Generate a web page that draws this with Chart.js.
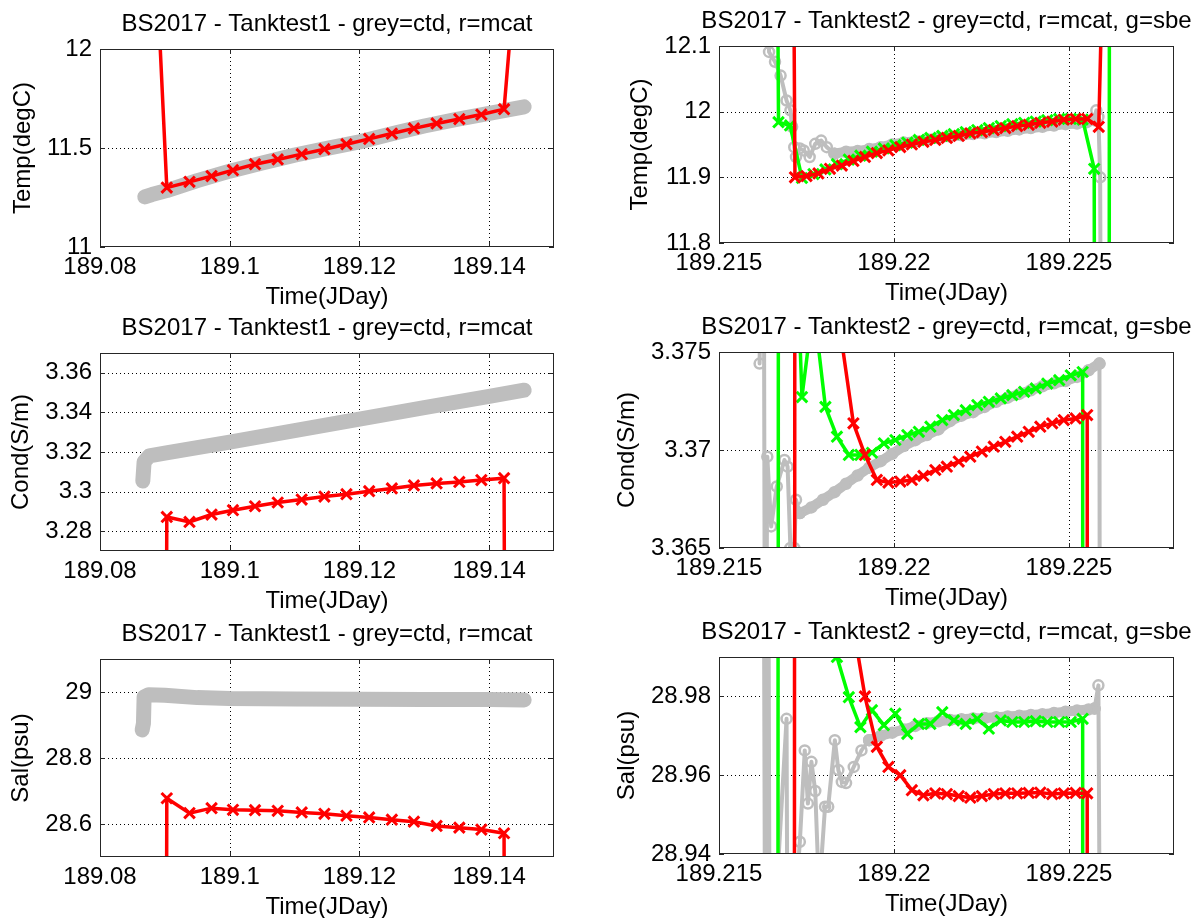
<!DOCTYPE html>
<html>
<head>
<meta charset="utf-8">
<script src="https://cdn.jsdelivr.net/npm/chart.js@4.4.1/dist/chart.umd.min.js"></script>
<style>
  html, body { margin: 0; padding: 0; background: #fff; width: 1198px; height: 918px; overflow: hidden; }
  canvas { position: absolute; }
</style>
</head>
<body>
<canvas id="c_t1"></canvas>
<canvas id="c_t2"></canvas>
<canvas id="c_c1"></canvas>
<canvas id="c_c2"></canvas>
<canvas id="c_s1"></canvas>
<canvas id="c_s2"></canvas>
<script>
/* ── titles & axis labels ─────────────────────────────────────── */
const TITLE_1 = 'BS2017 - Tanktest1 - grey=ctd, r=mcat';
const TITLE_2 = 'BS2017 - Tanktest2 - grey=ctd, r=mcat, g=sbe';
const X_TITLE = 'Time(JDay)';

/* ── tick values / labels ─────────────────────────────────────── */
const xTicks1 = [189.08, 189.1, 189.12, 189.14];
const xTickLabels1 = ['189.08', '189.1', '189.12', '189.14'];
const xTicks2 = [189.215, 189.22, 189.225];
const xTickLabels2 = ['189.215', '189.22', '189.225'];

const tempTicks1 = [11, 11.5, 12];
const tempTickLabels1 = ['11', '11.5', '12'];
const condTicks1 = [3.28, 3.3, 3.32, 3.34, 3.36];
const condTickLabels1 = ['3.28', '3.3', '3.32', '3.34', '3.36'];
const salTicks1 = [28.6, 28.8, 29];
const salTickLabels1 = ['28.6', '28.8', '29'];

const tempTicks2 = [11.8, 11.9, 12, 12.1];
const tempTickLabels2 = ['11.8', '11.9', '12', '12.1'];
const condTicks2 = [3.365, 3.37, 3.375];
const condTickLabels2 = ['3.365', '3.37', '3.375'];
const salTicks2 = [28.94, 28.96, 28.98];
const salTickLabels2 = ['28.94', '28.96', '28.98'];

/* ── Tanktest1: mcat (red) ────────────────────────────────────── */
const mcatTime1 = [189.0868, 189.0903, 189.0938, 189.0972, 189.1005, 189.1039, 189.1074, 189.1111,
  189.1146, 189.1180, 189.1215, 189.1250, 189.1284, 189.1319, 189.1354, 189.1388, 189.1423, 189.1458];
const mcatTemp1 = [13.73, 11.300, 11.329, 11.358, 11.388, 11.418, 11.442, 11.469, 11.494,
  11.519, 11.546, 11.573, 11.599, 11.624, 11.646, 11.669, 11.696, 13.07];
const mcatCond1 = [0, 3.2872, 3.2847, 3.2884, 3.2906, 3.2926, 3.2945, 3.2960, 3.2975,
  3.2987, 3.3002, 3.3016, 3.3031, 3.3041, 3.3049, 3.3058, 3.3068, 0];
const mcatSal1 = [0, 28.678, 28.633, 28.648, 28.643, 28.642, 28.640, 28.635, 28.631,
  28.625, 28.620, 28.613, 28.607, 28.594, 28.589, 28.583, 28.572, 0];

/* ── Tanktest1: ctd (grey) ────────────────────────────────────── */
const ctdTempTime1 = [189.0869, 189.0880, 189.0903, 189.0950, 189.1000, 189.1050, 189.1100,
  189.1150, 189.1200, 189.1250, 189.1300, 189.1350, 189.1400, 189.1454];
const ctdTemp1 = [11.253, 11.265, 11.285, 11.335, 11.383, 11.424, 11.464,
  11.498, 11.531, 11.572, 11.611, 11.645, 11.675, 11.708];
const ctdCondTime1 = [189.0866, 189.0868, 189.0876, 189.0900, 189.1000, 189.1100, 189.1200,
  189.1300, 189.1400, 189.1454];
const ctdCond1 = [3.3053, 3.3150, 3.3180, 3.3194, 3.3250, 3.3308, 3.3366, 3.3424, 3.3481, 3.3512];
const ctdSalTime1 = [189.0865, 189.0867, 189.0868, 189.0875, 189.0900, 189.0950, 189.1000,
  189.1100, 189.1200, 189.1300, 189.1400, 189.1454];
const ctdSal1 = [28.885, 28.905, 28.985, 28.992, 28.990, 28.983, 28.980, 28.979, 28.978, 28.977, 28.977, 28.976];

/* ── Tanktest2: mcat (red) ────────────────────────────────────── */
const mcatTime2 = [189.21683, 189.21717, 189.21750, 189.21784, 189.21817, 189.21851, 189.21884,
  189.21917, 189.21951, 189.21984, 189.22018, 189.22051, 189.22084, 189.22118, 189.22151,
  189.22185, 189.22218, 189.22251, 189.22285, 189.22318, 189.22352, 189.22385, 189.22418,
  189.22452, 189.22485, 189.22519, 189.22552, 189.22585, 189.22619];
const mcatTemp2 = [15.0, 11.900, 11.902, 11.906, 11.913, 11.918, 11.925, 11.931, 11.937, 11.941,
  11.946, 11.950, 11.954, 11.957, 11.960, 11.963, 11.967, 11.969, 11.972, 11.975, 11.978,
  11.980, 11.983, 11.985, 11.988, 11.989, 11.989, 11.977, 12.72];
const mcatCond2 = [0, 3.400, 3.392, 3.386, 3.380, 3.3755, 3.37136, 3.36975, 3.36847, 3.36834,
  3.36839, 3.36847, 3.36868, 3.36898, 3.36915, 3.36941, 3.36966, 3.36992, 3.37017, 3.37042,
  3.37068, 3.37093, 3.37119, 3.37136, 3.37153, 3.37161, 3.37178, 0, 0];
const mcatSal2 = [0, 29.3, 29.2, 29.1, 29.05, 29.02, 28.9976, 28.9800, 28.9672, 28.9621,
  28.9600, 28.9562, 28.9549, 28.9554, 28.9552, 28.9547, 28.9543, 28.9547, 28.9552, 28.9554,
  28.9554, 28.9555, 28.9556, 28.9552, 28.9554, 28.9555, 28.9554, 0, 0];

/* ── Tanktest2: sbe (green) ───────────────────────────────────── */
const sbeTime2 = [189.21636, 189.21670, 189.21703, 189.21737, 189.21770, 189.21804, 189.21837,
  189.21871, 189.21904, 189.21937, 189.21971, 189.22004, 189.22038, 189.22071, 189.22104,
  189.22138, 189.22171, 189.22205, 189.22238, 189.22271, 189.22305, 189.22338, 189.22372,
  189.22405, 189.22438, 189.22472, 189.22505, 189.22539, 189.22572, 189.22605, 189.22639];
const sbeTemp2 = [15.0, 11.984, 11.979, 11.899, 11.905, 11.912, 11.920, 11.927, 11.933, 11.939,
  11.944, 11.949, 11.953, 11.957, 11.960, 11.963, 11.966, 11.969, 11.972, 11.975, 11.978,
  11.981, 11.983, 11.985, 11.987, 11.989, 11.989, 11.988, 11.913, 0, 40];
const sbeCond2 = [0, 3.400, 3.390, 3.3727, 3.3774, 3.3722, 3.37068, 3.36975, 3.36975, 3.36986,
  3.37034, 3.37051, 3.37076, 3.37093, 3.37119, 3.37153, 3.37178, 3.37203, 3.37229, 3.37246,
  3.37263, 3.37280, 3.37297, 3.37314, 3.37339, 3.37356, 3.37381, 3.37398, 0, 0, 0];
const sbeSal2 = [0, 29.3, 29.2, 29.1, 29.05, 29.01, 28.990, 28.9798, 28.9722, 28.9765, 28.9727,
  28.9756, 28.9705, 28.9730, 28.9730, 28.9760, 28.9739, 28.9730, 28.9743, 28.9718, 28.9739,
  28.9735, 28.9735, 28.9737, 28.9735, 28.9735, 28.9735, 28.9743, 0, 0, 0];

/* ── Tanktest2: ctd (grey) — noisy head, dense band, tail ─────── */
const ctdTempHeadTime2 = [189.21630, 189.21643, 189.21660, 189.21676, 189.21693, 189.21704,
  189.21709, 189.21715, 189.21720, 189.21731, 189.21742, 189.21759, 189.21775, 189.21792,
  189.21808, 189.21830];
const ctdTempHead2 = [13.0, 12.091, 12.076, 12.055, 12.017, 12.002, 11.977, 11.946, 11.931, 11.944,
  11.941, 11.931, 11.951, 11.956, 11.946, 11.936];
const ctdTempBandTime2 = [189.21830, 189.21863, 189.21896, 189.21929, 189.21962, 189.21995,
  189.22028, 189.22061, 189.22094, 189.22127, 189.22160, 189.22193, 189.22226, 189.22259,
  189.22292, 189.22325, 189.22358, 189.22391, 189.22424, 189.22457, 189.22490, 189.22523,
  189.22551, 189.22573];
const ctdTempBand2 = [11.936, 11.939, 11.940, 11.943, 11.946, 11.950, 11.953, 11.955, 11.958,
  11.960, 11.962, 11.964, 11.966, 11.967, 11.969, 11.971, 11.973, 11.975, 11.977, 11.979,
  11.981, 11.982, 11.984, 11.987];
const ctdTempTailTime2 = [189.22573, 189.22578, 189.22584, 189.22589, 189.22595];
const ctdTempTail2 = [11.987, 12.002, 11.992, 11.900, 11.0];

const ctdCondHeadTime2 = [189.21616, 189.21627, 189.21632, 189.21638, 189.21649, 189.21665,
  189.21687, 189.21696, 189.21704, 189.21715, 189.21720, 189.21731];
const ctdCondHead2 = [3.37441, 3.390, 3.350, 3.36966, 3.36610, 3.36814, 3.36949, 3.36915, 3.36500,
  3.36500, 3.36746, 3.36678];
const ctdCondBandTime2 = [189.21731, 189.21764, 189.21797, 189.21830, 189.21863, 189.21896,
  189.21929, 189.21962, 189.21995, 189.22028, 189.22061, 189.22094, 189.22127, 189.22160,
  189.22193, 189.22226, 189.22259, 189.22292, 189.22325, 189.22358, 189.22391, 189.22424,
  189.22457, 189.22490, 189.22523, 189.22556, 189.22587];
const ctdCondBand2 = [3.36678, 3.36707, 3.36746, 3.36785, 3.36828, 3.36870, 3.36910, 3.36943,
  3.36980, 3.37020, 3.37050, 3.37076, 3.37105, 3.37147, 3.37175, 3.37193, 3.37220, 3.37246,
  3.37267, 3.37286, 3.37305, 3.37325, 3.37340, 3.37352, 3.37373, 3.37407, 3.37441];
const ctdCondTailTime2 = [189.22587, 189.22591];
const ctdCondTail2 = [3.37441, 3.300];

const ctdSalHeadTime2 = [189.21627, 189.21632, 189.21640, 189.21645, 189.21693, 189.21696,
  189.21731, 189.21745, 189.21754, 189.21764, 189.21775, 189.21786, 189.21803, 189.21812,
  189.21831, 189.21841, 189.21851, 189.21863, 189.21885, 189.21907, 189.21929];
const ctdSalHead2 = [29.05, 28.90, 29.05, 28.90, 28.9743, 28.90, 28.9431, 28.9663, 28.9528, 28.9634,
  28.9560, 28.930, 28.9520, 28.9520, 28.9689, 28.9613, 28.9583, 28.9580, 28.9621, 28.9663,
  28.9689];
const ctdSalBandTime2 = [189.21929, 189.21962, 189.21995, 189.22028, 189.22061, 189.22094,
  189.22127, 189.22160, 189.22193, 189.22226, 189.22259, 189.22292, 189.22325, 189.22358,
  189.22391, 189.22424, 189.22457, 189.22490, 189.22523, 189.22556, 189.22573];
const ctdSalBand2 = [28.9689, 28.9700, 28.9708, 28.9716, 28.9725, 28.9732, 28.9737, 28.9740,
  28.9742, 28.9744, 28.9745, 28.9747, 28.9749, 28.9751, 28.9753, 28.9755, 28.9758, 28.9761,
  28.9764, 28.9767, 28.9769];
const ctdSalTailTime2 = [189.22573, 189.22584, 189.22589];
const ctdSalTail2 = [28.9769, 28.9828, 28.90];

/* ── style ────────────────────────────────────────────────────── */
const RED = '#ff0000', GREEN = '#00ff00', GREY = '#bebebe';
const FONT_PX = 24;
const FONT = FONT_PX + 'px "Liberation Sans", Arial, Helvetica, sans-serif';
const PAD = { left: 110, top: 45, right: 30, bottom: 62 };

function pts(xs, ys) { return xs.map((x, i) => ({ x, y: ys[i] })); }

function crossSet(xs, ys, color, order) {
  return { data: pts(xs, ys), borderColor: color, borderWidth: 3.5, pointStyle: 'crossRot',
    pointRadius: 7.5, pointBorderWidth: 3, pointBorderColor: color, pointBackgroundColor: color, order };
}
const redSet = (xs, ys) => crossSet(xs, ys, RED, 0);
const greenSet = (xs, ys) => crossSet(xs, ys, GREEN, 1);

// tank 1: ctd samples are so dense they merge into one thick band
function greyBand(xs, ys) {
  return { data: pts(xs, ys), borderColor: GREY, borderWidth: 15, pointRadius: 0,
    borderCapStyle: 'round', borderJoinStyle: 'round', order: 2 };
}
function greyCircles(xs, ys, width) {
  return { data: pts(xs, ys), borderColor: GREY, borderWidth: width || 4, pointStyle: 'circle',
    pointRadius: 5, pointBorderWidth: 2.5, pointBorderColor: GREY,
    pointBackgroundColor: 'rgba(0,0,0,0)', borderJoinStyle: 'round', borderCapStyle: 'round', order: 2 };
}

/* ── matlab-like axes: dotted grid, box, inward ticks, labels ── */
const matlabAxes = {
  id: 'matlabAxes',
  beforeDatasetsDraw(chart, args, o) {
    const { ctx, chartArea: a, scales: { x, y } } = chart;
    ctx.save();
    ctx.strokeStyle = '#000';
    ctx.lineWidth = 1;
    ctx.setLineDash([1, 3]);
    o.xTicks.forEach(v => {
      const px = Math.round(x.getPixelForValue(v)) + 0.5;
      if (px < a.left + 2 || px > a.right - 2) return;
      ctx.beginPath(); ctx.moveTo(px, a.top); ctx.lineTo(px, a.bottom); ctx.stroke();
    });
    o.yTicks.forEach(v => {
      const py = Math.round(y.getPixelForValue(v)) + 0.5;
      if (py < a.top + 2 || py > a.bottom - 2) return;
      ctx.beginPath(); ctx.moveTo(a.left, py); ctx.lineTo(a.right, py); ctx.stroke();
    });
    ctx.restore();
  },
  afterDatasetsDraw(chart, args, o) {
    const { ctx, chartArea: a, scales: { x, y } } = chart;
    ctx.save();
    ctx.strokeStyle = '#262626';
    ctx.lineWidth = 1;
    ctx.strokeRect(a.left + 0.5, a.top + 0.5, a.right - a.left - 1, a.bottom - a.top - 1);
    const TL = 5;
    ctx.beginPath();
    o.xTicks.forEach(v => {
      const px = Math.round(x.getPixelForValue(v)) + 0.5;
      ctx.moveTo(px, a.bottom); ctx.lineTo(px, a.bottom - TL);
      ctx.moveTo(px, a.top); ctx.lineTo(px, a.top + TL);
    });
    o.yTicks.forEach(v => {
      const py = Math.round(y.getPixelForValue(v)) + 0.5;
      ctx.moveTo(a.left, py); ctx.lineTo(a.left + TL, py);
      ctx.moveTo(a.right, py); ctx.lineTo(a.right - TL, py);
    });
    ctx.stroke();

    ctx.fillStyle = '#000';
    ctx.font = FONT;
    ctx.textAlign = 'center';
    ctx.textBaseline = 'alphabetic';
    o.xTicks.forEach((v, i) => ctx.fillText(o.xLabels[i], x.getPixelForValue(v), a.bottom + 27));
    ctx.textAlign = 'right';
    ctx.textBaseline = 'middle';
    let widest = 0;
    o.yTicks.forEach((v, i) => {
      ctx.fillText(o.yLabels[i], a.left - 8, y.getPixelForValue(v));
      widest = Math.max(widest, ctx.measureText(o.yLabels[i]).width);
    });
    const cx = (a.left + a.right) / 2;
    ctx.textAlign = 'center';
    ctx.textBaseline = 'alphabetic';
    ctx.fillText(o.title, cx, a.top - 18);
    ctx.fillText(X_TITLE, cx, a.bottom + 57);
    ctx.translate(a.left - 8 - widest - 24, (a.top + a.bottom) / 2);
    ctx.rotate(-Math.PI / 2);
    ctx.textBaseline = 'middle';
    ctx.fillText(o.yTitle, 0, 0);
    ctx.restore();
  }
};

function makeChart(cfg) {
  const [l, t, r, b] = cfg.box;
  const cv = document.getElementById(cfg.id);
  cv.width = r - l + PAD.left + PAD.right;
  cv.height = b - t + PAD.top + PAD.bottom;
  cv.style.left = (l - PAD.left) + 'px';
  cv.style.top = (t - PAD.top) + 'px';
  const datasets = cfg.datasets.map(d => Object.assign({ tension: 0, fill: false, clip: 0 }, d));
  return new Chart(cv, {
    type: 'line',
    data: { datasets },
    options: {
      responsive: false,
      animation: false,
      events: [],
      layout: { padding: PAD },
      plugins: {
        legend: { display: false },
        tooltip: { enabled: false },
        matlabAxes: {
          xTicks: cfg.xTicks, xLabels: cfg.xLabels, yTicks: cfg.yTicks, yLabels: cfg.yLabels,
          title: cfg.title, yTitle: cfg.yTitle
        }
      },
      scales: {
        x: { type: 'linear', display: false, min: cfg.xRange[0], max: cfg.xRange[1] },
        y: { type: 'linear', display: false, min: cfg.yRange[0], max: cfg.yRange[1] }
      }
    },
    plugins: [matlabAxes]
  });
}

const X1 = [189.08, 189.15], X2 = [189.215, 189.228];

makeChart({ id: 'c_t1', box: [100, 49, 554, 247], xRange: X1, yRange: [11, 12],
  xTicks: xTicks1, xLabels: xTickLabels1, yTicks: tempTicks1, yLabels: tempTickLabels1,
  title: TITLE_1, yTitle: 'Temp(degC)',
  datasets: [greyBand(ctdTempTime1, ctdTemp1), redSet(mcatTime1, mcatTemp1)] });

makeChart({ id: 'c_c1', box: [100, 353, 554, 551], xRange: X1, yRange: [3.27, 3.37],
  xTicks: xTicks1, xLabels: xTickLabels1, yTicks: condTicks1, yLabels: condTickLabels1,
  title: TITLE_1, yTitle: 'Cond(S/m)',
  datasets: [greyBand(ctdCondTime1, ctdCond1), redSet(mcatTime1, mcatCond1)] });

makeChart({ id: 'c_s1', box: [100, 659, 554, 857], xRange: X1, yRange: [28.5, 29.1],
  xTicks: xTicks1, xLabels: xTickLabels1, yTicks: salTicks1, yLabels: salTickLabels1,
  title: TITLE_1, yTitle: 'Sal(psu)',
  datasets: [greyBand(ctdSalTime1, ctdSal1), redSet(mcatTime1, mcatSal1)] });

makeChart({ id: 'c_t2', box: [719, 46, 1174, 243], xRange: X2, yRange: [11.8, 12.1],
  xTicks: xTicks2, xLabels: xTickLabels2, yTicks: tempTicks2, yLabels: tempTickLabels2,
  title: TITLE_2, yTitle: 'Temp(degC)',
  datasets: [greyCircles(ctdTempHeadTime2, ctdTempHead2), greyCircles(ctdTempBandTime2, ctdTempBand2, 10),
    greyCircles(ctdTempTailTime2, ctdTempTail2),
    greenSet(sbeTime2, sbeTemp2), redSet(mcatTime2, mcatTemp2)] });

makeChart({ id: 'c_c2', box: [719, 352, 1174, 548], xRange: X2, yRange: [3.365, 3.375],
  xTicks: xTicks2, xLabels: xTickLabels2, yTicks: condTicks2, yLabels: condTickLabels2,
  title: TITLE_2, yTitle: 'Cond(S/m)',
  datasets: [greyCircles(ctdCondHeadTime2, ctdCondHead2), greyCircles(ctdCondBandTime2, ctdCondBand2, 10),
    greyCircles(ctdCondTailTime2, ctdCondTail2),
    greenSet(sbeTime2, sbeCond2), redSet(mcatTime2, mcatCond2)] });

makeChart({ id: 'c_s2', box: [719, 657, 1174, 854], xRange: X2, yRange: [28.94, 28.99],
  xTicks: xTicks2, xLabels: xTickLabels2, yTicks: salTicks2, yLabels: salTickLabels2,
  title: TITLE_2, yTitle: 'Sal(psu)',
  datasets: [greyCircles(ctdSalHeadTime2, ctdSalHead2), greyCircles(ctdSalBandTime2, ctdSalBand2, 10),
    greyCircles(ctdSalTailTime2, ctdSalTail2),
    greenSet(sbeTime2, sbeSal2), redSet(mcatTime2, mcatSal2)] });
</script>
</body>
</html>
